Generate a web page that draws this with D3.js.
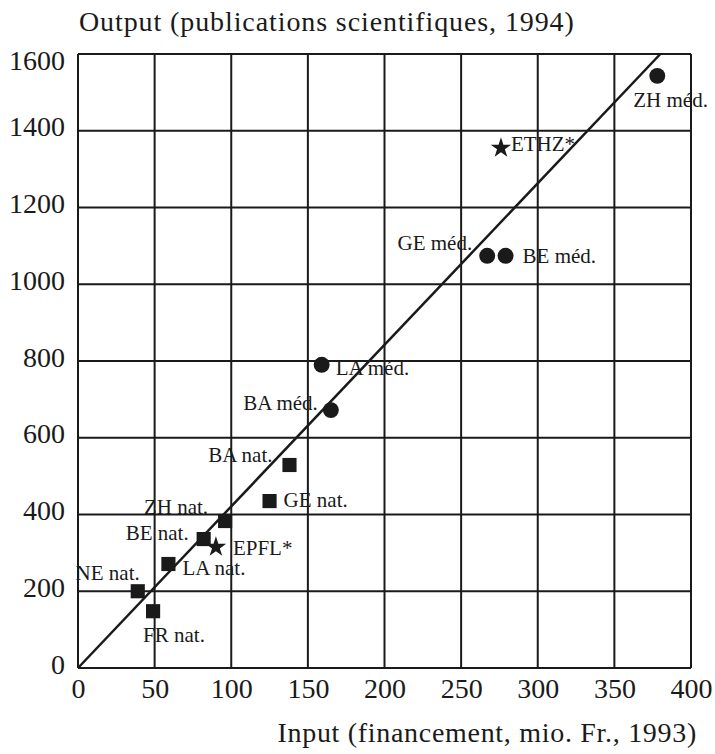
<!DOCTYPE html>
<html>
<head>
<meta charset="utf-8">
<script src="https://cdn.jsdelivr.net/npm/d3@7/dist/d3.min.js"></script>
<style>
  html, body { margin: 0; padding: 0; background: #fff; }
  svg { display: block; }
  text { font-family: "Liberation Serif", "DejaVu Serif", serif; fill: #1a1a1a; }
</style>
</head>
<body>
<svg id="chart" width="715" height="754"></svg>
<script>
// ---- data ----
const names   = ["ZH méd.", "ETHZ*", "GE méd.", "BE méd.", "LA méd.", "BA méd.", "BA nat.", "GE nat.", "ZH nat.", "BE nat.", "EPFL*", "LA nat.", "NE nat.", "FR nat."];
const inputs  = [378, 276, 267, 279, 159, 165, 138, 125, 96, 82, 90, 59, 39, 49];
const outputs = [1543, 1355, 1074, 1074, 790, 672, 529, 435, 383, 336, 315, 271, 200, 148];
const kinds   = ["med", "star", "med", "med", "med", "med", "nat", "nat", "nat", "nat", "star", "nat", "nat", "nat"];
const xTicks  = [0, 50, 100, 150, 200, 250, 300, 350, 400];
const yTicks  = [0, 200, 400, 600, 800, 1000, 1200, 1400, 1600];
const fitLine = [[0, 0], [380, 1600]];
const yTitle  = "Output (publications scientifiques, 1994)";
const xTitle  = "Input (financement, mio. Fr., 1993)";

// ---- label placement (pixel offsets from marker) ----
const labelPlace = [
  {dx: -24, dy: 31, a: "start"},
  {dx: 10, dy: 3, a: "start"},
  {dx: -15, dy: -6, a: "end"},
  {dx: 17, dy: 7, a: "start"},
  {dx: 14, dy: 10, a: "start"},
  {dx: -13, dy: 0, a: "end"},
  {dx: -17, dy: -3, a: "end"},
  {dx: 14, dy: 6, a: "start"},
  {dx: -17, dy: -7, a: "end"},
  {dx: -15, dy: 1, a: "end"},
  {dx: 17, dy: 8, a: "start"},
  {dx: 14, dy: 11, a: "start"},
  {dx: 2, dy: -11, a: "end"},
  {dx: -10, dy: 31, a: "start"}
];

const svg = d3.select("#chart");
const L = 78, R = 691, T = 54, B = 668;
const x = d3.scaleLinear().domain([0, 400]).range([L, R]);
const y = d3.scaleLinear().domain([0, 1600]).range([B, T]);
const ink = "#1a1a1a";

// grid
const g = svg.append("g");
g.selectAll("line.vx").data(xTicks).join("line")
  .attr("x1", d => x(d)).attr("x2", d => x(d)).attr("y1", T).attr("y2", B)
  .attr("stroke", ink).attr("stroke-width", 2);
g.selectAll("line.hy").data(yTicks).join("line")
  .attr("x1", L).attr("x2", R).attr("y1", d => y(d)).attr("y2", d => y(d))
  .attr("stroke", ink).attr("stroke-width", 2);

// axes labels via d3 axes
const xAxis = d3.axisBottom(x).tickValues(xTicks).tickSize(0).tickPadding(10).tickFormat(d3.format("d"));
const yAxis = d3.axisLeft(y).tickValues(yTicks).tickSize(0).tickPadding(13).tickFormat(d3.format("d"));
const gx = svg.append("g").attr("transform", `translate(0,${B})`).call(xAxis);
const gy = svg.append("g").attr("transform", `translate(${L},0)`).call(yAxis);
[gx, gy].forEach(a => {
  a.select(".domain").remove();
  a.selectAll("text").attr("font-family", '"Liberation Serif", serif').attr("font-size", 28).attr("fill", ink);
});
gy.selectAll("text").attr("dy", (d) => d === 1600 ? "0.57em" : "0.18em");

// fit line
svg.append("line")
  .attr("x1", x(fitLine[0][0])).attr("y1", y(fitLine[0][1]))
  .attr("x2", x(fitLine[1][0])).attr("y2", y(fitLine[1][1]))
  .attr("stroke", ink).attr("stroke-width", 2.5);

// markers
const sym = {
  med: d3.symbol().type(d3.symbolCircle).size(200),
  nat: d3.symbol().type(d3.symbolSquare).size(200),
  star: d3.symbol().type(d3.symbolStar).size(130)
};
const pts = names.map((n, i) => ({n, xv: inputs[i], yv: outputs[i], k: kinds[i], p: labelPlace[i]}));
svg.selectAll("path.m").data(pts).join("path")
  .attr("transform", d => `translate(${x(d.xv)},${y(d.yv)})`)
  .attr("d", d => sym[d.k]())
  .attr("fill", ink);

svg.selectAll("text.lab").data(pts).join("text")
  .attr("x", d => x(d.xv) + d.p.dx)
  .attr("y", d => y(d.yv) + d.p.dy)
  .attr("text-anchor", d => d.p.a)
  .attr("font-size", 21)
  .text(d => d.n);

// titles
svg.append("text").attr("x", 79).attr("y", 31).attr("font-size", 28)
  .attr("letter-spacing", "0.9px").text(yTitle);
svg.append("text").attr("x", 697).attr("y", 742).attr("text-anchor", "end").attr("font-size", 28)
  .attr("letter-spacing", "0.7px").text(xTitle);
</script>
</body>
</html>
